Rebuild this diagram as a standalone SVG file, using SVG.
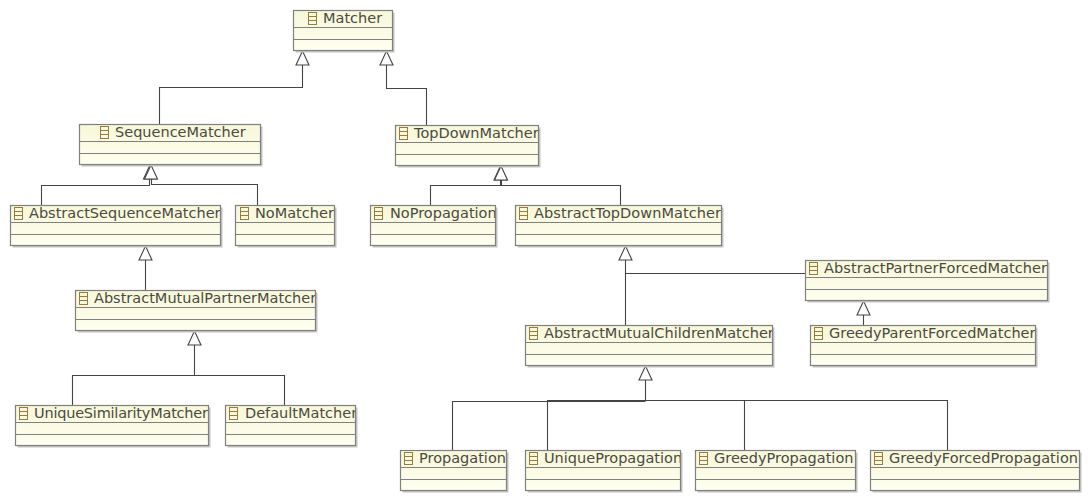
<svg xmlns="http://www.w3.org/2000/svg" width="1090" height="503" viewBox="0 0 1090 503">
<style>
.b{fill:url(#g);stroke:#808080;stroke-width:1.2}
.s{fill:#c4c4c4;stroke:none}
.d{stroke:#808080;stroke-width:1.1;fill:none}
.i{fill:none;stroke:#9a7b3a;stroke-width:1}
.t{font-family:"DejaVu Sans",sans-serif;font-size:14.5px;fill:#4a4a42}
.c{fill:none;stroke:#444;stroke-width:1.1}
.a{fill:#fff;stroke:#444;stroke-width:1.1}
</style>
<defs>
<linearGradient id="g" x1="0" y1="0" x2="0" y2="1"><stop offset="0" stop-color="#f7f7da"/><stop offset="1" stop-color="#fffff0"/></linearGradient>
<g id="ic"><rect x="0" y="0" width="8" height="12" class="i"/><path d="M0 4H8M0 8H8" class="i"/></g>
<clipPath id="c1"><rect x="10" y="205" width="210" height="20"/></clipPath>
<clipPath id="c2"><rect x="235" y="205" width="99" height="20"/></clipPath>
<clipPath id="c3"><rect x="395" y="125" width="143" height="20"/></clipPath>
<clipPath id="c4"><rect x="370" y="205" width="125" height="20"/></clipPath>
<clipPath id="c5"><rect x="515" y="205" width="206" height="20"/></clipPath>
<clipPath id="c6"><rect x="805" y="260" width="242" height="20"/></clipPath>
<clipPath id="c7"><rect x="810" y="325" width="225" height="20"/></clipPath>
<clipPath id="c8"><rect x="525" y="325" width="247" height="20"/></clipPath>
<clipPath id="c9"><rect x="75" y="290" width="240" height="20"/></clipPath>
<clipPath id="c10"><rect x="15" y="405" width="193" height="20"/></clipPath>
<clipPath id="c11"><rect x="225" y="405" width="130" height="20"/></clipPath>
<clipPath id="c12"><rect x="400" y="450" width="106" height="20"/></clipPath>
<clipPath id="c13"><rect x="525" y="450" width="155" height="20"/></clipPath>
<clipPath id="c14"><rect x="695" y="450" width="160" height="20"/></clipPath>
<clipPath id="c15"><rect x="870" y="450" width="209" height="20"/></clipPath>
</defs>
<rect width="1090" height="503" fill="#fff"/>
<g id="connectors">
<path class="c" d="M302.5 65V87.500H159.500V124.500"/><path class="a" d="M302.5 51L296 65H309Z"/>
<path class="c" d="M386.5 65V88.500H426.500V125.500"/><path class="a" d="M386.5 51L380 65H393Z"/>
<path class="c" d="M41.5 205V185.500H149.500V179"/><path class="a" d="M150 165L143.500 179H156.500Z"/>
<path class="c" d="M257.5 205V184.500H151.500V179"/><path class="a" d="M151 165L144.500 179H157.500Z"/>
<path class="c" d="M430.5 205V185.500H500.500V180"/><path class="c" d="M620.5 205V185.500H501.500V180"/><path class="a" d="M500.5 166L494 180H507Z"/><path class="a" d="M501 166L494.500 180H507.500Z"/>
<path class="c" d="M145.500 260V290"/><path class="a" d="M145.500 246L139 260H152Z"/>
<path class="c" d="M625.500 260V325M625.500 273.500H805"/><path class="a" d="M625.500 246L619 260H632Z"/>
<path class="c" d="M863.500 315V325"/><path class="a" d="M863.500 301L857 315H870Z"/>
<path class="c" d="M194.500 345V375.500M72.500 405V375.500H284.500V405"/><path class="a" d="M194.500 331L188 345H201Z"/>
<path class="c" d="M645.500 380V400.500M452.500 450V401.500H645.500M547.500 450V400.500H947.500V450M744.500 450V400.500"/><path class="a" d="M645.500 366L639 380H652Z"/>
</g>
<g id="n1"><rect class="s" x="295.500" y="12.500" width="99" height="40"/><rect class="b" x="293.500" y="10.500" width="99" height="40"/><path class="d" d="M293.500 27.500H392.500M293.500 39.500H392.500"/><use href="#ic" x="308.500" y="12.500"/><text class="t" x="323" y="23">Matcher</text></g>
<g id="n2"><rect class="s" x="81.500" y="126.500" width="181" height="40"/><rect class="b" x="79.500" y="124.500" width="181" height="40"/><path class="d" d="M79.500 141.500H260.500M79.500 153.500H260.500"/><use href="#ic" x="100.500" y="126.500"/><text class="t" x="115" y="137">SequenceMatcher</text></g>
<g id="n3"><rect class="s" x="397.500" y="127.500" width="143" height="40"/><rect class="b" x="395.500" y="125.500" width="143" height="40"/><path class="d" d="M395.500 142.500H538.500M395.500 154.500H538.500"/><use href="#ic" x="399.500" y="127.500"/><text class="t" x="414" y="138" clip-path="url(#c3)">TopDownMatcher</text></g>
<g id="n4"><rect class="s" x="12.500" y="207.500" width="210" height="40"/><rect class="b" x="10.500" y="205.500" width="210" height="40"/><path class="d" d="M10.500 222.500H220.500M10.500 234.500H220.500"/><use href="#ic" x="14.500" y="207.500"/><text class="t" x="29" y="218" clip-path="url(#c1)">AbstractSequenceMatcher</text></g>
<g id="n5"><rect class="s" x="237.500" y="207.500" width="99" height="40"/><rect class="b" x="235.500" y="205.500" width="99" height="40"/><path class="d" d="M235.500 222.500H334.500M235.500 234.500H334.500"/><use href="#ic" x="240.500" y="207.500"/><text class="t" x="255" y="218" clip-path="url(#c2)">NoMatcher</text></g>
<g id="n6"><rect class="s" x="372.500" y="207.500" width="125" height="40"/><rect class="b" x="370.500" y="205.500" width="125" height="40"/><path class="d" d="M370.500 222.500H495.500M370.500 234.500H495.500"/><use href="#ic" x="374.500" y="207.500"/><text class="t" x="390" y="218" clip-path="url(#c4)">NoPropagation</text></g>
<g id="n7"><rect class="s" x="517.500" y="207.500" width="206" height="40"/><rect class="b" x="515.500" y="205.500" width="206" height="40"/><path class="d" d="M515.500 222.500H721.500M515.500 234.500H721.500"/><use href="#ic" x="519.500" y="207.500"/><text class="t" x="534" y="218" textLength="187" clip-path="url(#c5)">AbstractTopDownMatcher</text></g>
<g id="n8"><rect class="s" x="807.500" y="262.500" width="242" height="40"/><rect class="b" x="805.500" y="260.500" width="242" height="40"/><path class="d" d="M805.500 277.500H1047.500M805.500 289.500H1047.500"/><use href="#ic" x="809.500" y="262.500"/><text class="t" x="824" y="273" textLength="223" clip-path="url(#c6)">AbstractPartnerForcedMatcher</text></g>
<g id="n9"><rect class="s" x="812.500" y="327.500" width="225" height="40"/><rect class="b" x="810.500" y="325.500" width="225" height="40"/><path class="d" d="M810.500 342.500H1035.500M810.500 354.500H1035.500"/><use href="#ic" x="814.500" y="327.500"/><text class="t" x="829" y="338" clip-path="url(#c7)">GreedyParentForcedMatcher</text></g>
<g id="n10"><rect class="s" x="527.500" y="327.500" width="247" height="40"/><rect class="b" x="525.500" y="325.500" width="247" height="40"/><path class="d" d="M525.500 342.500H772.500M525.500 354.500H772.500"/><use href="#ic" x="529.500" y="327.500"/><text class="t" x="544" y="338" clip-path="url(#c8)">AbstractMutualChildrenMatcher</text></g>
<g id="n11"><rect class="s" x="77.500" y="292.500" width="240" height="40"/><rect class="b" x="75.500" y="290.500" width="240" height="40"/><path class="d" d="M75.500 307.500H315.500M75.500 319.500H315.500"/><use href="#ic" x="79.500" y="292.500"/><text class="t" x="94" y="303" clip-path="url(#c9)">AbstractMutualPartnerMatcher</text></g>
<g id="n12"><rect class="s" x="17.500" y="407.500" width="193" height="40"/><rect class="b" x="15.500" y="405.500" width="193" height="40"/><path class="d" d="M15.500 422.500H208.500M15.500 434.500H208.500"/><use href="#ic" x="19.500" y="407.500"/><text class="t" x="34" y="418" textLength="174" clip-path="url(#c10)">UniqueSimilarityMatcher</text></g>
<g id="n13"><rect class="s" x="227.500" y="407.500" width="130" height="40"/><rect class="b" x="225.500" y="405.500" width="130" height="40"/><path class="d" d="M225.500 422.500H355.500M225.500 434.500H355.500"/><use href="#ic" x="229.500" y="407.500"/><text class="t" x="245" y="418" clip-path="url(#c11)">DefaultMatcher</text></g>
<g id="n14"><rect class="s" x="402.500" y="452.500" width="106" height="40"/><rect class="b" x="400.500" y="450.500" width="106" height="40"/><path class="d" d="M400.500 467.500H506.500M400.500 479.500H506.500"/><use href="#ic" x="404.500" y="452.500"/><text class="t" x="419" y="463" clip-path="url(#c12)">Propagation</text></g>
<g id="n15"><rect class="s" x="527.500" y="452.500" width="155" height="40"/><rect class="b" x="525.500" y="450.500" width="155" height="40"/><path class="d" d="M525.500 467.500H680.500M525.500 479.500H680.500"/><use href="#ic" x="529.500" y="452.500"/><text class="t" x="544" y="463" clip-path="url(#c13)">UniquePropagation</text></g>
<g id="n16"><rect class="s" x="697.500" y="452.500" width="160" height="40"/><rect class="b" x="695.500" y="450.500" width="160" height="40"/><path class="d" d="M695.500 467.500H855.500M695.500 479.500H855.500"/><use href="#ic" x="699.500" y="452.500"/><text class="t" x="714" y="463" clip-path="url(#c14)">GreedyPropagation</text></g>
<g id="n17"><rect class="s" x="872.500" y="452.500" width="209" height="40"/><rect class="b" x="870.500" y="450.500" width="209" height="40"/><path class="d" d="M870.500 467.500H1079.500M870.500 479.500H1079.500"/><use href="#ic" x="874.500" y="452.500"/><text class="t" x="889" y="463" textLength="189" clip-path="url(#c15)">GreedyForcedPropagation</text></g>
</svg>
